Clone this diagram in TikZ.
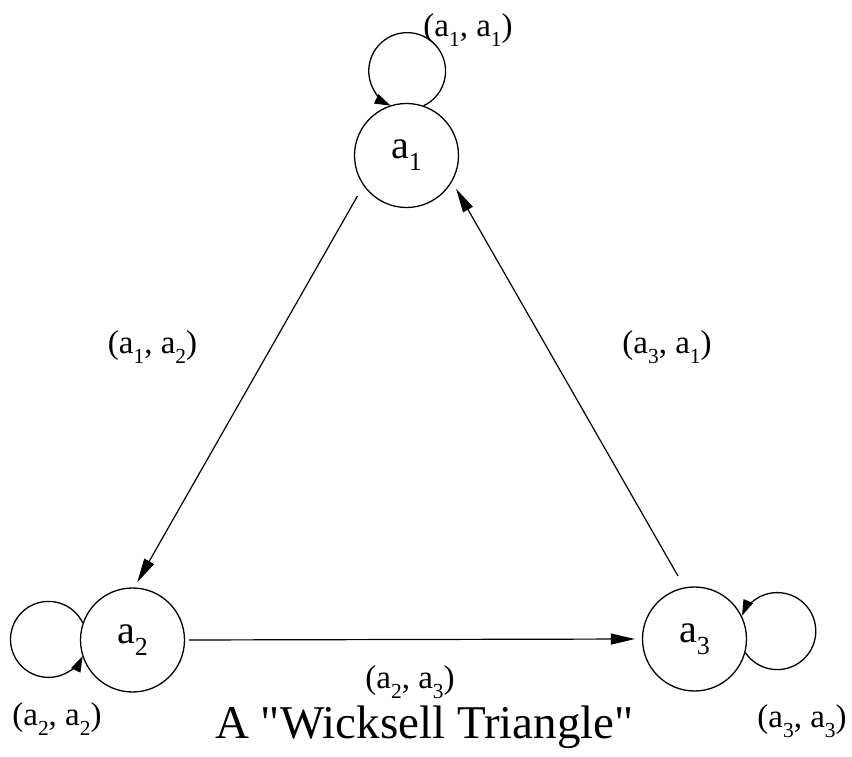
\documentclass[tikz,border=0pt]{standalone}
\usepackage{fontspec}
\setmainfont{Liberation Serif}
\usetikzlibrary{arrows.meta}
\tikzset{
  st/.style={circle, draw, line width=1.3pt, minimum size=104pt, inner sep=0pt,
             font=\fontsize{40}{44}\selectfont},
  lbl/.style={font=\fontsize{33}{36}\selectfont},
  ttl/.style={font=\fontsize{47}{50}\selectfont},
  tr/.style={line width=1.2pt, -{Triangle[length=24pt,width=11pt]}},
  self/.style={line width=1.3pt, -{Triangle[length=16pt,width=10pt]}},
}
\newcommand{\ag}[1]{a\raisebox{-0.3em}{\scalebox{0.65}{#1}}}

\begin{document}
\begin{tikzpicture}[x=1pt,y=1pt]
  \useasboundingbox (0,0) rectangle (852,756);
  \node[st] (a1) at (406.5,600.5) {\ag{1}};
  \node[st] (a2) at (132.5,116) {\ag{2}};
  \node[st] (a3) at (694.5,117) {\ag{3}};
  \draw[tr, shorten <=12pt, shorten >=6pt] (a1.215) -- (a2.88);
  \draw[tr, shorten <=4pt, shorten >=7pt] (a2.east) -- (a3.west);
  \draw[tr, shorten <=13pt, shorten >=8pt] (a3.101) -- (a1.330);
  % self loops
  \draw[self] (a1.71.5) arc[start angle=-64.6, end angle=244.6, radius=38.4];
  \draw[self] (a2.161.5) arc[start angle=25.8, end angle=334.2, radius=38];
  \draw[self] (a3.-15.6) arc[start angle=214, end angle=516.6, radius=38.5];
  \node[lbl] (l11) at (468,726) {(\ag{1}, \ag{1})};
  \node[lbl] (l12) at (152.5,409) {(\ag{1}, \ag{2})};
  \node[lbl] (l31) at (667,409) {(\ag{3}, \ag{1})};
  \node[lbl] (l23) at (410,74) {(\ag{2}, \ag{3})};
  \node[lbl] (l22) at (57,37) {(\ag{2}, \ag{2})};
  \node[lbl] (l33) at (802,35) {(\ag{3}, \ag{3})};
  \node[ttl, anchor=base] (title) at (424.5,18) {A \textquotedbl Wicksell Triangle\textquotedbl};
\end{tikzpicture}
\end{document}
